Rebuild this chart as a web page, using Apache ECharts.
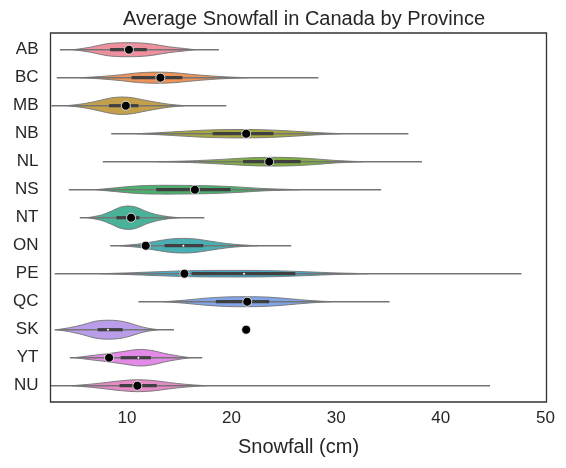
<!DOCTYPE html>
<html><head><meta charset="utf-8">
<script src="https://cdn.jsdelivr.net/npm/echarts/dist/echarts.min.js"></script>
<style>html,body{margin:0;padding:0;background:#fff}#c{width:566px;height:468px}</style>
</head><body><div id="c"></div>
<script>
const provinces = ['AB','BC','MB','NB','NL','NS','NT','ON','PE','QC','SK','YT','NU'];
const colors = ['#ee8f9e','#ec9459','#c4a04a','#a6a73f','#80ae43','#4ab06e','#4bb29a','#4aafb3','#48a8c6','#82a4e8','#b99de8','#e28ae5','#e68bc6'];
// whisker range (min..max) per province
const whiskerMin = [3.6, 3.3, 2.8, 8.5, 7.7, 4.45, 5.5, 8.4, 3.1, 11.1, 3.1, 4.55, 2.75];
const whiskerMax = [18.8, 28.3, 19.5, 36.9, 38.2, 34.3, 17.4, 25.7, 47.7, 35.1, 14.5, 17.2, 44.7];
// inner box (quartiles) and median
const q1 = [8.4, 10.45, 8.3, 18.2, 21.1, 12.8, 9.0, 13.6, 16.2, 18.5, 7.2, 9.4, 9.3];
const q3 = [11.9, 15.3, 11.1, 24.0, 26.6, 19.9, 11.2, 17.3, 26.1, 23.6, 9.6, 12.3, 12.85];
const median = [10.2, 13.0, 9.8, 21.3, 23.6, 16.3, 10.2, 15.4, 21.2, 21.4, 8.2, 11.1, 11.0];
// highlighted value (black dot)
const dotValues = [10.2, 13.2, 9.9, 21.4, 23.6, 16.5, 10.4, 11.8, 15.5, 21.5, 21.4, 8.3, 11.0];
// violin density profile: sample positions (cm) and half-width (fraction of a category band)
const violinX = [
  [4.9, 6.5, 8.0, 9.0, 10.3, 11.5, 12.5, 14.0, 15.5, 16.5],
  [5.5, 7.5, 9.5, 11.0, 12.8, 14.5, 16.0, 18.0, 20.0, 21.5],
  [4.3, 6.0, 7.5, 8.5, 9.5, 10.5, 11.5, 12.5, 14.0, 15.5],
  [11.0, 13.0, 15.5, 18.0, 21.0, 23.5, 26.0, 28.0, 30.5],
  [13.0, 16.0, 19.0, 21.5, 23.7, 26.0, 28.0, 30.0, 32.5],
  [7.0, 9.0, 11.0, 13.0, 15.5, 18.0, 20.5, 23.0, 26.5],
  [6.2, 7.5, 8.5, 9.3, 10.1, 10.9, 11.8, 12.8, 14.0, 15.0],
  [9.3, 11.0, 12.5, 14.0, 15.2, 16.5, 18.0, 19.5, 21.0, 22.5],
  [7.5, 10.0, 13.0, 16.0, 20.0, 24.0, 27.0, 30.0, 33.0],
  [13.5, 15.5, 17.5, 19.5, 21.5, 23.5, 25.5, 27.5, 29.5],
  [3.3, 4.5, 5.8, 7.0, 8.2, 9.3, 10.3, 11.2, 12.0, 13.0],
  [5.0, 6.5, 8.0, 9.5, 11.2, 12.5, 13.5, 14.5, 16.0],
  [4.7, 6.5, 8.0, 9.5, 11.0, 12.5, 14.0, 15.5, 17.5]
];
const violinW = [
  [0, 0.089, 0.207, 0.243, 0.25, 0.236, 0.196, 0.107, 0.043, 0],
  [0, 0.043, 0.107, 0.171, 0.2, 0.179, 0.125, 0.064, 0.021, 0],
  [0, 0.079, 0.196, 0.279, 0.311, 0.286, 0.214, 0.143, 0.054, 0],
  [0, 0.036, 0.089, 0.136, 0.15, 0.136, 0.089, 0.043, 0],
  [0, 0.029, 0.082, 0.136, 0.157, 0.143, 0.1, 0.043, 0],
  [0, 0.071, 0.136, 0.157, 0.154, 0.139, 0.1, 0.043, 0],
  [0, 0.089, 0.232, 0.368, 0.418, 0.375, 0.232, 0.114, 0.036, 0],
  [0, 0.054, 0.143, 0.232, 0.261, 0.243, 0.161, 0.079, 0.029, 0],
  [0, 0.029, 0.071, 0.107, 0.118, 0.107, 0.071, 0.029, 0],
  [0, 0.054, 0.125, 0.171, 0.179, 0.164, 0.107, 0.043, 0],
  [0, 0.071, 0.179, 0.304, 0.339, 0.314, 0.232, 0.125, 0.054, 0],
  [0, 0.071, 0.136, 0.214, 0.296, 0.25, 0.161, 0.089, 0],
  [0, 0.054, 0.114, 0.179, 0.214, 0.186, 0.114, 0.054, 0]
];
const xTicks = [10, 20, 30, 40, 50];

const FONT = 'Liberation Sans, Arial, sans-serif';
const chart = echarts.init(document.getElementById('c'), null, {renderer: 'canvas'});
const idx = provinces.map((p, i) => [whiskerMin[i], i]);

chart.setOption({
  animation: false,
  backgroundColor: '#ffffff',
  title: {
    text: 'Average Snowfall in Canada by Province',
    left: 299, top: 4, textAlign: 'center',
    textStyle: {fontFamily: FONT, fontSize: 20, fontWeight: 'normal', color: '#262626'}
  },
  grid: {left: 50.5, right: 19.5, top: 35.7, bottom: 68.3, containLabel: false},
  xAxis: {
    type: 'value', min: 2.7, max: 50.1,
    name: 'Snowfall (cm)', nameLocation: 'middle', nameGap: 38,
    nameTextStyle: {fontFamily: FONT, fontSize: 20, color: '#262626'},
    axisLine: {show: false}, axisTick: {show: false}, splitLine: {show: false},
    axisLabel: {customValues: xTicks, fontFamily: FONT, fontSize: 17, color: '#262626', margin: 10}
  },
  yAxis: {
    type: 'category', data: provinces, inverse: true,
    axisLine: {show: false}, axisTick: {show: false}, splitLine: {show: false},
    axisLabel: {fontFamily: FONT, fontSize: 17, color: '#262626', margin: 12}
  },
  graphic: [{
    type: 'rect', z: 100, silent: true,
    shape: {x: 50.5, y: 33, width: 496, height: 369},
    style: {fill: 'none', stroke: '#333333', lineWidth: 1.3}
  }],
  series: [
    {
      type: 'custom', name: 'violin', data: idx, encode: {x: 0, y: 1}, z: 2,
      renderItem: function (params, api) {
        const i = api.value(1);
        const band = api.size([0, 1])[1];
        const xs = violinX[i], ws = violinW[i];
        const top = [], bot = [];
        for (let k = 0; k < xs.length; k++) {
          const c = api.coord([xs[k], i]);
          top.push([c[0], c[1] - ws[k] * band]);
          bot.push([c[0], c[1] + ws[k] * band]);
        }
        const pts = top.concat(bot.reverse());
        return {
          type: 'polygon',
          shape: {points: pts, smooth: 0.35},
          style: {fill: colors[i], stroke: '#747474', lineWidth: 0.9}
        };
      }
    },
    {
      type: 'custom', name: 'inner', data: idx, encode: {x: 0, y: 1}, z: 3,
      renderItem: function (params, api) {
        const i = api.value(1);
        const a = api.coord([whiskerMin[i], i]);
        const b = api.coord([whiskerMax[i], i]);
        const c1 = api.coord([q1[i], i]);
        const c3 = api.coord([q3[i], i]);
        const m = api.coord([median[i], i]);
        return {
          type: 'group',
          children: [
            {type: 'line', shape: {x1: a[0], y1: a[1], x2: b[0], y2: b[1]},
             style: {stroke: '#747474', lineWidth: 1.5}},
            {type: 'line', shape: {x1: c1[0], y1: c1[1], x2: c3[0], y2: c3[1]},
             style: {stroke: '#404040', lineWidth: 3.2}},
            {type: 'circle', shape: {cx: m[0], cy: m[1], r: 1},
             style: {fill: '#ffffff'}}
          ]
        };
      }
    },
    {
      type: 'scatter', name: 'value', z: 5,
      data: dotValues.map((v, i) => [v, i]),
      symbol: 'circle', symbolSize: 9,
      itemStyle: {color: '#000000', borderColor: '#ffffff', borderWidth: 0.8, opacity: 1}
    }
  ]
});
</script>
</body></html>
